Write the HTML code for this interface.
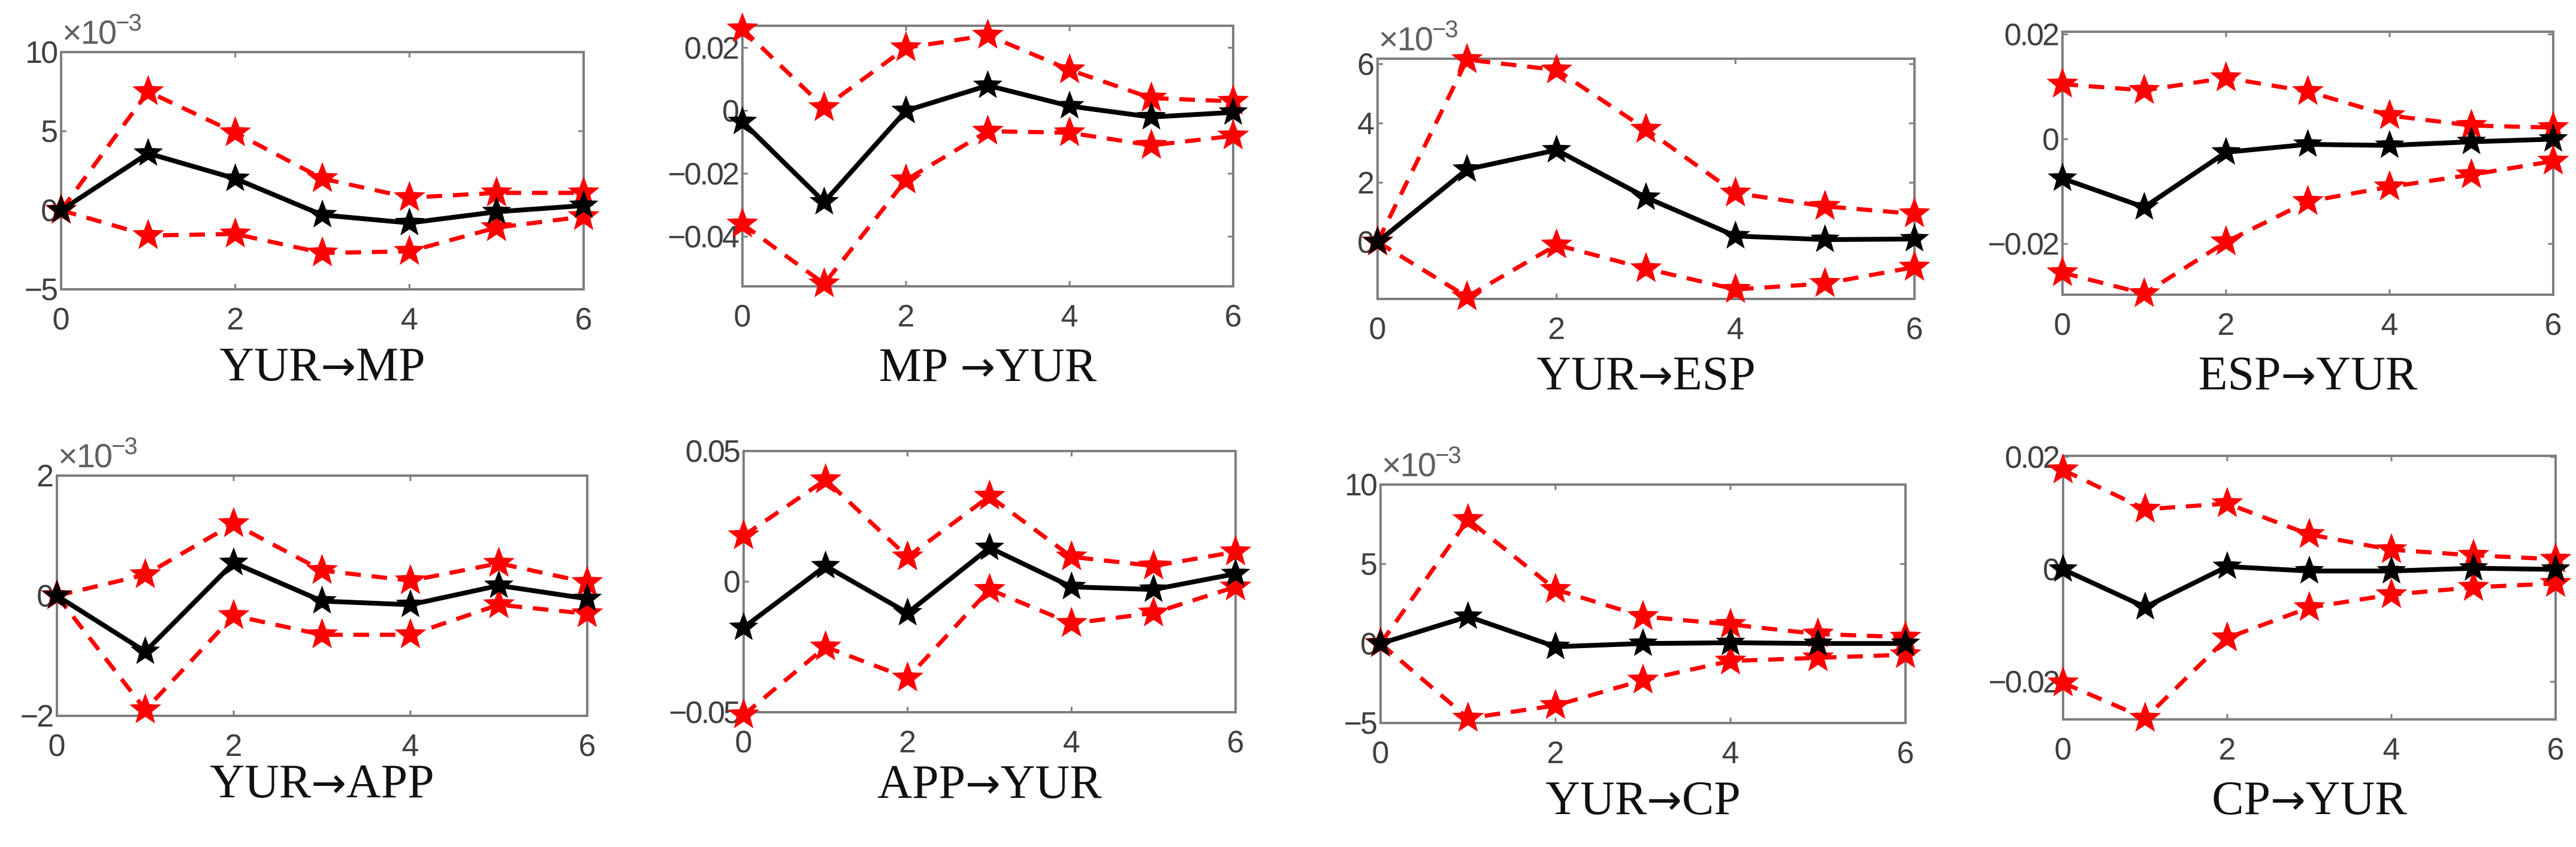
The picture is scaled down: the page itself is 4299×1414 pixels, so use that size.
<!DOCTYPE html>
<html><head><meta charset="utf-8"><style>
html,body{margin:0;padding:0;background:#fff;}
svg{display:block;}
</style></head><body>
<svg id="fig" width="4299" height="1414" viewBox="0 0 4299 1414" xmlns="http://www.w3.org/2000/svg"></svg>
<script>
const periods = [0,1,2,3,4,5,6];
const xTicks = [0,2,4,6];
const titleLeft = ["YUR","MP ","YUR","ESP","YUR","APP","YUR","CP"];
const titleRight = ["MP","YUR","ESP","YUR","APP","YUR","CP","YUR"];
const yRanges = [[-5,10],[-0.0558,0.027],[-1.92,6.18],[-0.0297,0.0205],[-2,2],[-0.05,0.05],[-5,10],[-0.0267,0.0202]];
const yTicks = [[-5,0,5,10],[-0.04,-0.02,0,0.02],[0,2,4,6],[-0.02,0,0.02],[-2,0,2],[-0.05,0,0.05],[-5,0,5,10],[-0.02,0,0.02]];
const yTickLabels = [["−5","0","5","10"],["−0.04","−0.02","0","0.02"],["0","2","4","6"],["−0.02","0","0.02"],["−2","0","2"],["−0.05","0","0.05"],["−5","0","5","10"],["−0.02","0","0.02"]];
const hasExp = [true,false,true,false,true,false,true,false];
const mid1 = [0,3.6,2.0,-0.3,-0.8,-0.1,0.3];
const up1 = [0,7.5,4.9,2.0,0.8,1.1,1.1];
const lo1 = [0,-1.6,-1.5,-2.7,-2.6,-1.1,-0.4];
const mid2 = [-0.0035,-0.029,0,0.008,0.0015,-0.002,-0.0005];
const up2 = [0.026,0.001,0.020,0.024,0.013,0.004,0.003];
const lo2 = [-0.036,-0.055,-0.022,-0.0065,-0.007,-0.011,-0.008];
const mid3 = [0,2.45,3.1,1.5,0.2,0.08,0.1];
const up3 = [0,6.15,5.8,3.8,1.65,1.2,0.95];
const lo3 = [0,-1.85,-0.1,-0.9,-1.6,-1.4,-0.85];
const mid4 = [-0.0075,-0.013,-0.0025,-0.001,-0.0012,-0.0005,0];
const up4 = [0.0105,0.0093,0.0117,0.0091,0.0045,0.0026,0.0022];
const lo4 = [-0.0255,-0.0295,-0.0196,-0.0119,-0.0091,-0.0068,-0.0042];
const mid5 = [0,-0.93,0.55,-0.09,-0.15,0.17,-0.05];
const up5 = [0,0.35,1.2,0.42,0.25,0.54,0.22];
const lo5 = [0,-1.9,-0.33,-0.65,-0.65,-0.15,-0.3];
const mid6 = [-0.0176,0.006,-0.012,0.013,-0.002,-0.003,0.003];
const up6 = [0.0176,0.039,0.0095,0.0327,0.0095,0.006,0.0114];
const lo6 = [-0.051,-0.025,-0.0369,-0.003,-0.016,-0.012,-0.002];
const mid7 = [0,1.7,-0.2,0,0.05,0,0];
const up7 = [0,7.8,3.4,1.7,1.2,0.6,0.4];
const lo7 = [0,-4.7,-3.9,-2.3,-1.1,-0.9,-0.7];
const mid8 = [0,-0.0067,0.0005,-0.0003,-0.0003,0.0002,0];
const up8 = [0.0177,0.0107,0.0117,0.0062,0.0035,0.0025,0.0018];
const lo8 = [-0.0202,-0.0265,-0.0122,-0.0068,-0.0045,-0.0032,-0.0025];
const mids = [mid1,mid2,mid3,mid4,mid5,mid6,mid7,mid8];
const ups = [up1,up2,up3,up4,up5,up6,up7,up8];
const los = [lo1,lo2,lo3,lo4,lo5,lo6,lo7,lo8];
const boxes = [[102,87,974,483],[1239,43,2058,478],[2299,98,3195,499],[3442,53,4261,492],
               [95,794,980,1195],[1241,753,2062,1189],[2304,809,3180,1207],[3443,761,4265,1201]];
const titleY = [635,636,650,650,1331,1332,1359,1359];

const NS="http://www.w3.org/2000/svg";
const svg=document.getElementById('fig');
function mk(tag,attrs,parent){const e=document.createElementNS(NS,tag);for(const k in attrs)e.setAttribute(k,attrs[k]);(parent||svg).appendChild(e);return e;}
function starPath(cx,cy,R){const r=R*0.42;let d="";for(let i=0;i<10;i++){const a=-Math.PI/2+i*Math.PI/5;const rr=i%2?r:R;d+=(i?"L":"M")+(cx+rr*Math.cos(a)).toFixed(1)+","+(cy+rr*Math.sin(a)).toFixed(1);}return d+"Z";}

for(let p=0;p<8;p++){
  const [L,T,R,B]=boxes[p];
  const [y0,y1]=yRanges[p];
  const xs=v=>L+(v-0)/(6-0)*(R-L);
  const ys=v=>B-(v-y0)/(y1-y0)*(B-T);
  const g=mk('g',{});
  
  
  const frame=mk('rect',{x:L,y:T,width:R-L,height:B-T,fill:'none',stroke:'#7f7f7f','stroke-width':4},g);
  
  
  xTicks.forEach(t=>{
    const x=xs(t);
    mk('line',{x1:x,y1:B,x2:x,y2:B-9,stroke:'#7f7f7f','stroke-width':3},g);
    mk('line',{x1:x,y1:T,x2:x,y2:T+9,stroke:'#7f7f7f','stroke-width':3},g);
    const tx=mk('text',{x:x,y:B+67,'text-anchor':'middle','font-family':'Liberation Sans, sans-serif','font-size':52,fill:'#404040'},g);
    tx.textContent=t;
    
    
  });
  yTicks[p].forEach((t,i)=>{
    const y=ys(t);
    mk('line',{x1:L,y1:y,x2:L+9,y2:y,stroke:'#7f7f7f','stroke-width':3},g);
    mk('line',{x1:R,y1:y,x2:R-9,y2:y,stroke:'#7f7f7f','stroke-width':3},g);
    const ty=mk('text',{x:L-8,y:y+18,'text-anchor':'end','font-family':'Liberation Sans, sans-serif','font-size':52,fill:'#404040','letter-spacing':-3},g);
    ty.textContent=yTickLabels[p][i];
    
    
  });
  if(hasExp[p]){
    const ex=mk('text',{x:L+2,y:T-14,'font-family':'Liberation Sans, sans-serif','font-size':56,fill:'#606060','letter-spacing':-2},g);
    ex.innerHTML='×10<tspan dy="-22" font-size="40">−3</tspan>';
    
    
  }
  const series=[[ups[p],'#ff0000',true,'upper-bound'],[los[p],'#ff0000',true,'lower-bound'],[mids[p],'#000000',false,'impulse-response']];
  series.forEach(([arr,col,dash,nm])=>{
    const pts=periods.map((t,i)=>xs(t).toFixed(1)+','+ys(arr[i]).toFixed(1)).join(' ');
    const attrs={points:pts,fill:'none',stroke:col,'stroke-width':dash?7:8,'stroke-linejoin':'round'};
    if(dash)attrs['stroke-dasharray']='26,18';
    const pl=mk('polyline',attrs,g);
    
    
    periods.forEach((t,i)=>{
      const s=mk('path',{d:starPath(xs(t),ys(arr[i]),dash?25:23),fill:col,stroke:col,'stroke-width':2},g);
      
      
    });
  });
  const tt=mk('text',{x:(L+R)/2,y:titleY[p],'text-anchor':'middle','font-family':'Liberation Serif, serif','font-size':80,fill:'#111'},g);
  tt.innerHTML=titleLeft[p].replace(' ','&#160;')+'<tspan font-family="DejaVu Sans, sans-serif" font-size="70">→</tspan>'+titleRight[p];
  
  
}
</script>
</body></html>
